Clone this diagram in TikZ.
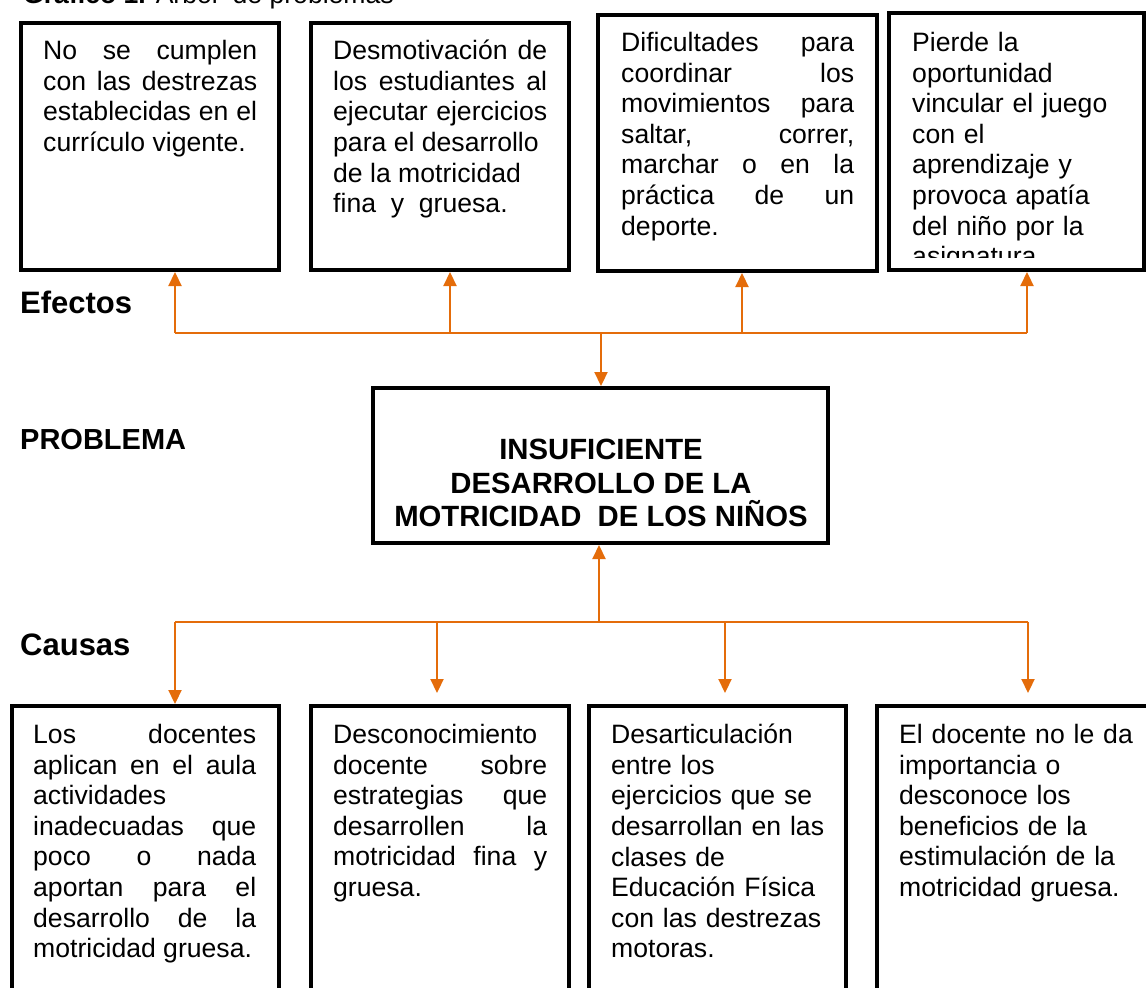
\documentclass[tikz,border=0pt]{standalone}
\usepackage{fontspec}
\setmainfont{Liberation Sans}
\usetikzlibrary{arrows.meta}
\definecolor{naranja}{RGB}{228,108,10}

\begin{document}
\begin{tikzpicture}[x=1pt,y=-1pt]
      \tikzstyle{caja} = [rectangle, draw=black, line width=4pt, inner sep=0pt]
      \tikzstyle{texto} = [inner sep=0pt, anchor=north west, font=\fontsize{26.6}{30.6}\selectfont]
      \tikzstyle{rotulo} = [inner sep=0pt, anchor=base west, font=\bfseries\fontsize{31}{36}\selectfont]
      \tikzstyle{linea} = [naranja, line width=2.2pt]
      \tikzstyle{arrow} = [linea, -{Triangle[width=13pt,length=14pt]}]

      \useasboundingbox (0,0) rectangle (1146,988);

      \node (grafico) [anchor=base west, inner sep=0pt, font=\fontsize{26.6}{30.6}\selectfont] at (23,3) {\textbf{Gráfico 1.} Árbol\ \ de problemas};

      % efectos
      \node (efecto1) [caja, minimum width=258pt, minimum height=247pt] at (150,146.5) {};
      \node (efecto2) [caja, minimum width=258pt, minimum height=247pt] at (440,146.5) {};
      \node (efecto3) [caja, minimum width=279pt, minimum height=256pt] at (737.5,143) {};
      \node (efecto4) [caja, minimum width=255pt, minimum height=257pt] at (1016.5,141.5) {};

      \node (efecto1-txt) [texto, text width=214pt, align=justify] at (43,40) {No se cumplen\linebreak con las destrezas\linebreak establecidas en el\linebreak currículo vigente.};
      \node (efecto2-txt) [texto, text width=214pt, align=justify] at (333,40) {Desmotivación de\linebreak los estudiantes al\linebreak ejecutar ejercicios\linebreak para el desarrollo\\ de la motricidad\\ fina\ \ y\ \ gruesa.};
      \node (efecto3-txt) [texto, text width=233pt, align=justify] at (621,32) {Dificultades para\linebreak coordinar los\linebreak movimientos para\linebreak saltar, correr,\linebreak marchar o en la\linebreak práctica de un\linebreak deporte.};
      \begin{scope}
        \clip (880,0) rectangle (1146,257);
        \node (efecto4-txt) [texto, text width=228pt, align=left] at (912,32) {Pierde la\\ oportunidad\\ vincular el juego\\ con el\\ aprendizaje y\\ provoca apatía\\ del niño por la\\ asignatura};
      \end{scope}

      \node (lbl-efectos) [rotulo] at (20,313) {Efectos};
      \node (lbl-problema) [rotulo, font=\bfseries\fontsize{29}{33}\selectfont] at (20,449) {PROBLEMA};
      \node (lbl-causas) [rotulo] at (20,655) {Causas};

      % problema
      \node (problema) [caja, minimum width=455pt, minimum height=155pt] at (600.5,465.5) {};
      \node (problema-txt) [inner sep=0pt, anchor=north, align=center, font=\bfseries\fontsize{29.3}{33.5}\selectfont] at (601,439) {INSUFICIENTE\\ DESARROLLO DE LA\\ MOTRICIDAD\ \ DE LOS NIÑOS};

      % causas
      \node (causa1) [caja, minimum width=267pt, minimum height=304pt] at (145.5,858) {};
      \node (causa2) [caja, minimum width=258pt, minimum height=304pt] at (440,858) {};
      \node (causa3) [caja, minimum width=257pt, minimum height=304pt] at (717.5,858) {};
      \node (causa4) [caja, minimum width=293pt, minimum height=304pt] at (1023.5,858) {};

      \node (causa1-txt) [texto, text width=223pt, align=justify] at (33,724) {Los docentes\linebreak aplican en el aula\linebreak actividades\\ inadecuadas que\linebreak poco o nada\linebreak aportan para el\linebreak desarrollo de la\linebreak motricidad gruesa.};
      \node (causa2-txt) [texto, text width=214pt, align=justify] at (333,724) {Desconocimiento\\ docente sobre\linebreak estrategias que\linebreak desarrollen la\linebreak motricidad fina y\linebreak gruesa.};
      \node (causa3-txt) [texto, text width=225pt, align=left] at (611,724) {Desarticulación\\ entre los\\ ejercicios que se\\ desarrollan en las\\ clases de\\ Educación Física\\ con las destrezas\\ motoras.};
      \node (causa4-txt) [texto, text width=240pt, align=left] at (899,724) {El docente no le da\\ importancia o\\ desconoce los\\ beneficios de la\\ estimulación de la\\ motricidad gruesa.};

      % conectores de efectos
      \coordinate (ef-1) at (175,333);
      \coordinate (ef-2) at (450,333);
      \coordinate (ef-3) at (742,333);
      \coordinate (ef-4) at (1027,333);
      \coordinate (ef-c) at (601,333);
      \draw [linea] (ef-1) -- (ef-4);
      \draw [arrow] (ef-1) -- (ef-1 |- efecto1.south);
      \draw [arrow] (ef-2) -- (ef-2 |- efecto2.south);
      \draw [arrow] (ef-3) -- (ef-3 |- efecto3.south);
      \draw [arrow] (ef-4) -- (ef-4 |- efecto4.south);
      \draw [arrow] (ef-c) -- (ef-c |- problema.north);

      % conectores de causas
      \coordinate (ca-1) at (175,622);
      \coordinate (ca-2) at (437,622);
      \coordinate (ca-3) at (725,622);
      \coordinate (ca-4) at (1028,622);
      \coordinate (ca-c) at (599,622);
      \draw [arrow] (ca-c) -- (ca-c |- problema.south);
      \draw [linea] (ca-1) -- (ca-4);
      \draw [arrow] (ca-1) -- (ca-1 |- causa1.north);
      \draw [arrow, shorten >=11pt] (ca-2) -- (ca-2 |- causa2.north);
      \draw [arrow, shorten >=11pt] (ca-3) -- (ca-3 |- causa3.north);
      \draw [arrow, shorten >=11pt] (ca-4) -- (ca-4 |- causa4.north);
    \end{tikzpicture}
\end{document}
